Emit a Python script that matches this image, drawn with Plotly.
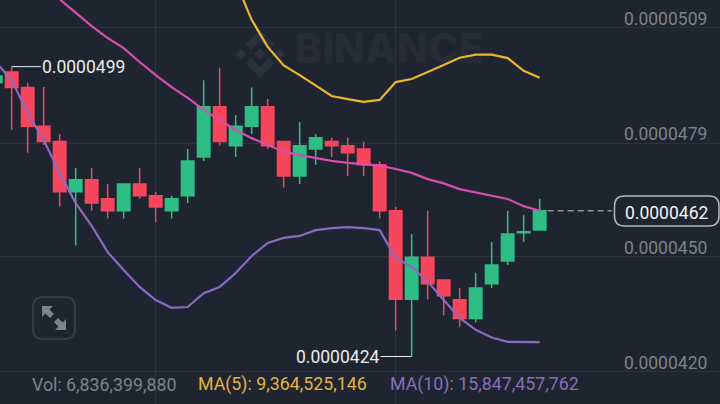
import plotly.graph_objects as go

# prices are in units of 0.0000001, first candle sits left of the frame
candle_index = list(range(-1, 34))
opens = [494.8, 497.6, 493.6, 483.6, 479.6, 466.6, 469.7, 464.8, 461.7, 468.6, 465.6, 461.7,
         465.6, 475.6, 488.6, 478.5, 483.6, 488.6, 479.6, 470.7, 477.7, 479.6, 478.5, 477.7,
         473.6, 461.7, 438.8, 449.7, 443.8, 438.7, 433.8, 442.8, 448.7, 456.0, 456.7]
highs = [498.1, 499.0, 494.8, 493.7, 481.6, 472.8, 472.8, 468.6, 468.6, 472.8, 466.6, 465.6,
         477.7, 495.5, 498.7, 486.5, 493.6, 490.6, 479.6, 484.7, 481.6, 480.6, 480.6, 479.6,
         474.6, 462.7, 455.7, 461.7, 443.8, 441.7, 445.7, 453.6, 461.7, 460.6, 464.8]
lows = [494.3, 482.6, 476.7, 478.7, 462.8, 452.7, 461.7, 459.7, 459.7, 464.8, 458.8, 459.7,
        463.7, 474.6, 478.5, 475.6, 481.6, 477.7, 467.7, 468.6, 473.6, 475.6, 470.7, 470.7,
        459.7, 430.7, 424.0, 438.8, 434.7, 431.7, 432.8, 441.7, 447.7, 453.6, 456.7]
closes = [496.6, 493.6, 483.6, 479.6, 466.6, 469.7, 463.7, 461.7, 468.6, 465.6, 462.7, 464.8,
          474.6, 488.6, 479.6, 483.6, 488.6, 478.5, 470.7, 478.5, 480.6, 478.5, 476.7, 473.6,
          461.7, 438.8, 449.7, 442.8, 439.7, 433.8, 441.7, 447.7, 455.7, 456.3, 461.7]

pink_index = list(range(2, 34))
pink_line = [519.9, 516.5, 513.1, 509.5, 506.4, 503.8, 500.2, 496.8, 493.7, 490.9, 487.8,
             485.2, 482.6, 480.5, 478.7, 477.0, 476.1, 475.4, 474.6, 474.1, 473.8, 473.4,
             472.5, 471.5, 469.9, 468.8, 467.3, 466.4, 465.5, 464.75, 462.9, 461.7]

yellow_index = list(range(14, 34))
yellow_line = [520.9, 511.1, 504.1, 499.3, 496.8, 494.1, 491.4, 490.6, 489.9, 490.4,
               495.0, 495.8, 497.5, 499.4, 501.3, 502.1, 502.1, 501.2, 497.9, 496.1]

purple_index = list(range(-1, 34))
purple_line = [500.2, 495.5, 487.0, 480.0, 471.5, 463.7, 457.8, 451.0, 446.4, 442.0, 438.6,
               436.6, 436.8, 440.4, 442.0, 445.6, 450.0, 453.4, 454.7, 455.2, 456.7, 457.2,
               457.5, 457.2, 456.7, 449.5, 447.2, 443.4, 438.6, 434.0, 430.9, 428.9, 427.8,
               427.8, 427.7]

tick_vals = [509.0, 479.2, 449.75, 420.0]
tick_text = ["0.0000509", "0.0000479", "0.0000450", "0.0000420"]
vertical_grid = [9, 24]

BG = "#1f2530"
GRID = "#2c323e"
FONT = "Roboto"
W, H = 720, 404


def px(x, y):
    return f"{x / W:.5f},{1 - y / H:.5f}"


def px_path(points):
    # canvas pixels to a closed path in paper coords
    parts = [("M" if i == 0 else "L") + px(x, y) for i, (x, y) in enumerate(points)]
    return " ".join(parts) + " Z"


def round_rect(x0, y0, x1, y1, r):
    return (f"M{px(x0 + r, y0)} L{px(x1 - r, y0)} Q{px(x1, y0)} {px(x1, y0 + r)} "
            f"L{px(x1, y1 - r)} Q{px(x1, y1)} {px(x1 - r, y1)} "
            f"L{px(x0 + r, y1)} Q{px(x0, y1)} {px(x0, y1 - r)} "
            f"L{px(x0, y0 + r)} Q{px(x0, y0)} {px(x0 + r, y0)} Z")


def paper_shape(path, fill=None, line=None, width=0, layer="below"):
    return dict(type="path", xref="paper", yref="paper", path=path, layer=layer,
                fillcolor=fill or "rgba(0,0,0,0)", line=dict(color=line or "rgba(0,0,0,0)", width=width))


fig = go.Figure()

fig.add_trace(go.Candlestick(
    x=candle_index, open=opens, high=highs, low=lows, close=closes, whiskerwidth=0,
    increasing=dict(line=dict(color="#2ebd85", width=1.5), fillcolor="#2ebd85"),
    decreasing=dict(line=dict(color="#f6465d", width=1.5), fillcolor="#f6465d"),
))

# watermark, as a text trace so the lines stay above it
fig.add_trace(go.Scatter(x=[23.6], y=[502.5], mode="text", text=["BINANCE"],
                         textfont=dict(family="Inter", size=41, weight=800, color="rgba(255,255,255,0.055)")))

fig.add_trace(go.Scatter(x=pink_index, y=pink_line, mode="lines", line=dict(color="#d44fae", width=2.2)))
fig.add_trace(go.Scatter(x=yellow_index, y=yellow_line, mode="lines", line=dict(color="#e9b72f", width=2.2)))
fig.add_trace(go.Scatter(x=purple_index, y=purple_line, mode="lines", line=dict(color="#8d69c0", width=2.2)))

shapes = []

# logo pieces
lx, ly = 260, 54
logo_parts = [
    [(0, -24), (14.5, -9.5), (9, -4), (0, -13), (-9, -4), (-14.5, -9.5)],
    [(0, 24), (14.5, 9.5), (9, 4), (0, 13), (-9, 4), (-14.5, 9.5)],
    [(0, -5.5), (5.5, 0), (0, 5.5), (-5.5, 0)],
    [(-19, -5.5), (-13.5, 0), (-19, 5.5), (-24.5, 0)],
    [(19, -5.5), (24.5, 0), (19, 5.5), (13.5, 0)],
]
for part in logo_parts:
    shapes.append(paper_shape(px_path([(lx + a, ly + b) for a, b in part]), fill="#2c313d"))

# expand button
shapes.append(paper_shape(round_rect(33, 297, 75, 339, 10), line="#343a46", width=2))
for arrow in [
    [(42, 306), (53, 306), (49.5, 309.5), (54, 314), (50, 318), (45.5, 313.5), (42, 317)],
    [(66, 330), (55, 330), (58.5, 326.5), (54, 322), (58, 318), (62.5, 322.5), (66, 319)],
]:
    shapes.append(paper_shape(px_path(arrow), fill="#7d8491"))

# high / low leaders
shapes.append(dict(type="line", xref="x", yref="y", x0=0, x1=1.83, y0=499, y1=499,
                   line=dict(color="#eaecef", width=1)))
shapes.append(dict(type="line", xref="x", yref="y", x0=23.05, x1=25, y0=424, y1=424,
                   line=dict(color="#eaecef", width=1)))

# last price dash and box
shapes.append(dict(type="line", xref="x", yref="y", x0=33.5, x1=37.5, y0=461.7, y1=461.7,
                   line=dict(color="#8f949c", width=1.5, dash="6px,4px")))
shapes.append(paper_shape(round_rect(614.5, 196, 719, 226, 10), fill=BG, line="#b4b7bc", width=1.5, layer="above"))

annotations = []
for val, txt in zip(tick_vals, tick_text):
    annotations.append(dict(xref="paper", yref="y", x=707 / W, y=val, text=txt, showarrow=False,
                            xanchor="right", yanchor="middle", yshift=9, xshift=2,
                            font=dict(family=FONT, size=17.5, color="#7c828d")))


def bottom_text(x, txt, color):
    annotations.append(dict(xref="paper", yref="paper", x=x / W, y=1 - 384 / H, text=txt, showarrow=False,
                            xanchor="left", yanchor="middle", xshift=-2,
                            font=dict(family=FONT, size=17.8, color=color)))


bottom_text(32, "Vol: 6,836,399,880", "#7c828d")
bottom_text(198, "MA(5): 9,364,525,146", "#e3b341")
bottom_text(390, "MA(10): 15,847,457,762", "#8a6fb8")

annotations.append(dict(x=1.9, y=499, text="0.0000499", showarrow=False, xanchor="left", yanchor="middle", xshift=-2,
                        font=dict(family=FONT, size=17.5, color="#eaecef")))
annotations.append(dict(x=22.95, y=424, text="0.0000424", showarrow=False, xanchor="right", yanchor="middle", xshift=2,
                        font=dict(family=FONT, size=17.5, color="#eaecef")))
annotations.append(dict(xref="paper", yref="paper", x=666 / W, y=1 - 213 / H, text="0.0000462", showarrow=False,
                        xanchor="center", yanchor="middle",
                        font=dict(family=FONT, size=17.5, color="#f2f3f5")))

fig.update_layout(
    width=W, height=H,
    margin=dict(l=0, r=0, t=0, b=0),
    paper_bgcolor=BG, plot_bgcolor=BG,
    showlegend=False,
    boxgap=0.22, boxgroupgap=0,
    shapes=shapes,
    annotations=annotations,
    xaxis=dict(range=[-0.731, 44.27], rangeslider=dict(visible=False), tickvals=vertical_grid,
               showticklabels=False, showgrid=True, gridcolor=GRID, gridwidth=1, zeroline=False, ticks=""),
    yaxis=dict(range=[411.71, 516.24], tickvals=tick_vals, showticklabels=False, showgrid=True,
               gridcolor=GRID, gridwidth=1, zeroline=False, ticks=""),
)

# page margin would push the chart off the 720x404 window
fig.write_html("out.html", config={"displayModeBar": False},
               post_script="document.body.style.margin='0';document.body.style.background='" + BG + "';")
